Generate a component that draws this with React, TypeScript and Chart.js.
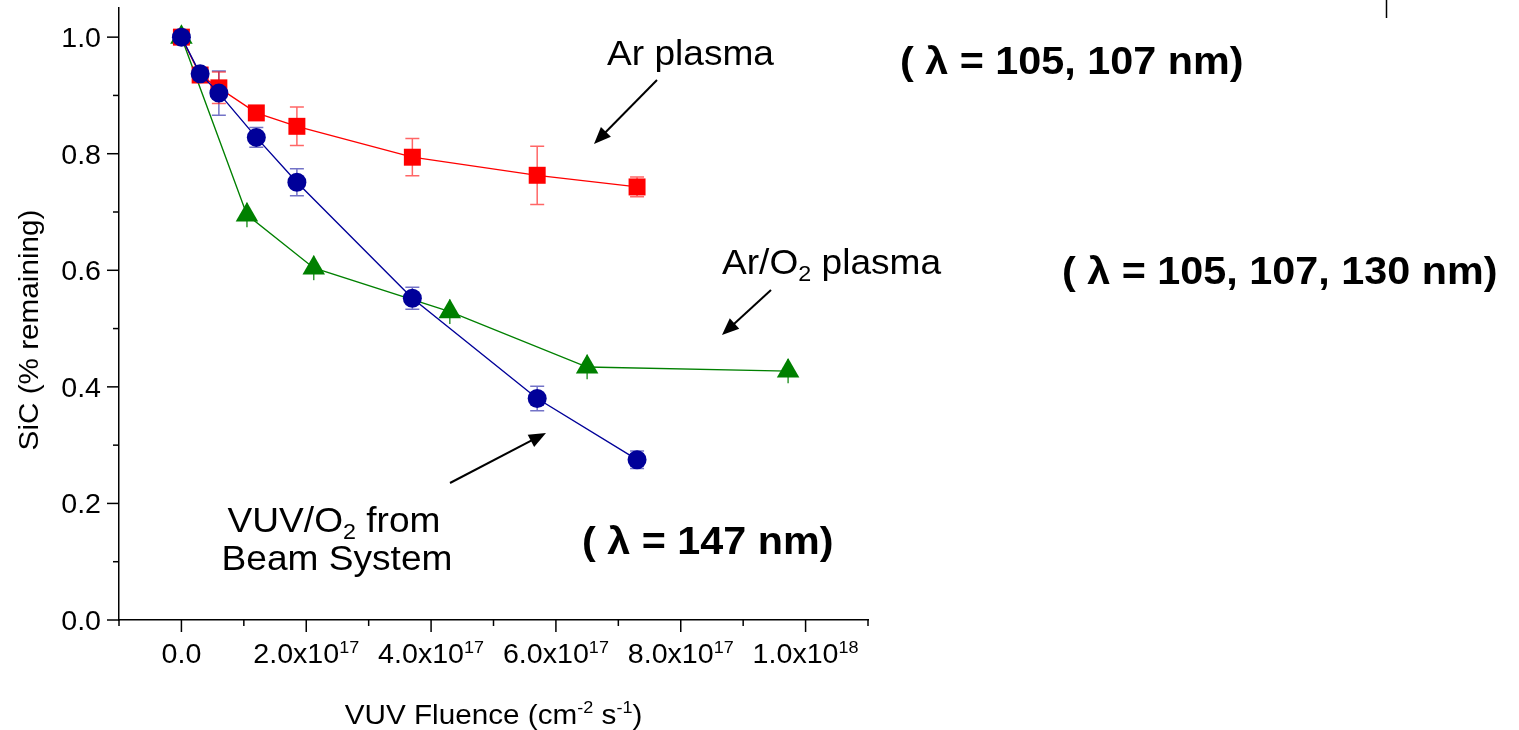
import React, { useEffect, useRef } from "react";
import { Chart, registerables } from "chart.js";

Chart.register(...registerables);

// ---- Data ----
const vuvX = [0, 0.3e17, 0.6e17, 1.2e17, 1.85e17, 3.7e17, 5.7e17, 7.3e17];
const vuvY = [1.0, 0.937, 0.904, 0.828, 0.751, 0.552, 0.38, 0.275];
const vuvErr = [0.005, 0.008, 0.038, 0.017, 0.023, 0.019, 0.021, 0.015];

const arX = [0, 0.3e17, 0.6e17, 1.2e17, 1.85e17, 3.7e17, 5.7e17, 7.3e17];
const arY = [1.0, 0.935, 0.913, 0.87, 0.847, 0.794, 0.763, 0.743];
const arErr = [0.005, 0.01, 0.027, 0.006, 0.033, 0.032, 0.05, 0.017];

const o2X = [0, 1.05e17, 2.12e17, 4.3e17, 6.5e17, 9.72e17];
const o2Y = [1.0, 0.695, 0.604, 0.529, 0.434, 0.427];
const o2Err = [0.01, 0.021, 0.021, 0.021, 0.021, 0.021];

const xTickValues = [0, 2e17, 4e17, 6e17, 8e17, 1e18];
const xTickMantissa = ["0.0", "2.0x10", "4.0x10", "6.0x10", "8.0x10", "1.0x10"];
const xTickExp = ["", "17", "17", "17", "17", "18"];
const yTickValues = [0, 0.2, 0.4, 0.6, 0.8, 1.0];
const yTickLabels = ["0.0", "0.2", "0.4", "0.6", "0.8", "1.0"];

const FONT = '"Liberation Sans", Arial, Helvetica, sans-serif';
const SX = 1.06; // horizontal text stretch

type Part = { t: string; size: number; bold?: boolean; dy?: number };

function fnt(size: number, bold?: boolean) {
  return `${bold ? "bold " : ""}${size}px ${FONT}`;
}

function partsWidth(ctx: CanvasRenderingContext2D, parts: Part[]) {
  let w = 0;
  for (const p of parts) {
    ctx.font = fnt(p.size, p.bold);
    w += ctx.measureText(p.t).width;
  }
  return w * SX;
}

function drawParts(
  ctx: CanvasRenderingContext2D,
  parts: Part[],
  x: number,
  y: number,
  align: "left" | "center" | "right",
  rotate = 0
) {
  const w = partsWidth(ctx, parts);
  ctx.save();
  ctx.translate(x, y);
  if (rotate) ctx.rotate(rotate);
  const start = align === "left" ? 0 : align === "center" ? -w / 2 : -w;
  ctx.translate(start, 0);
  ctx.scale(SX, 1);
  ctx.fillStyle = "#000";
  ctx.textAlign = "left";
  ctx.textBaseline = "alphabetic";
  let cx = 0;
  for (const p of parts) {
    ctx.font = fnt(p.size, p.bold);
    ctx.fillText(p.t, cx, p.dy || 0);
    cx += ctx.measureText(p.t).width;
  }
  ctx.restore();
}

function arrow(ctx: CanvasRenderingContext2D, x1: number, y1: number, x2: number, y2: number) {
  const ang = Math.atan2(y2 - y1, x2 - x1);
  const hl = 17;
  const hw = 7;
  const bx = x2 - hl * Math.cos(ang);
  const by = y2 - hl * Math.sin(ang);
  ctx.save();
  ctx.strokeStyle = "#000";
  ctx.fillStyle = "#000";
  ctx.lineWidth = 2;
  ctx.beginPath();
  ctx.moveTo(x1, y1);
  ctx.lineTo(bx + 3 * Math.cos(ang), by + 3 * Math.sin(ang));
  ctx.stroke();
  ctx.beginPath();
  ctx.moveTo(x2, y2);
  ctx.lineTo(bx + hw * Math.sin(ang), by - hw * Math.cos(ang));
  ctx.lineTo(bx - hw * Math.sin(ang), by + hw * Math.cos(ang));
  ctx.closePath();
  ctx.fill();
  ctx.restore();
}

const errorBarPlugin = {
  id: "errorBars",
  beforeDatasetsDraw(chart: any) {
    const ctx = chart.ctx as CanvasRenderingContext2D;
    const yScale = chart.scales.y;
    chart.data.datasets.forEach((ds: any, i: number) => {
      const meta = chart.getDatasetMeta(i);
      if (!ds.errors) return;
      ctx.save();
      ctx.strokeStyle = ds.errColor;
      ctx.lineWidth = 1.5;
      meta.data.forEach((el: any, j: number) => {
        const v = ds.data[j].y;
        const e = ds.errors[j];
        const x = el.x;
        const yt = yScale.getPixelForValue(v + e);
        const yb = yScale.getPixelForValue(v - e);
        ctx.beginPath();
        ctx.moveTo(x, yt);
        ctx.lineTo(x, yb);
        if (ds.errCap > 0) {
          ctx.moveTo(x - ds.errCap, yt);
          ctx.lineTo(x + ds.errCap, yt);
          ctx.moveTo(x - ds.errCap, yb);
          ctx.lineTo(x + ds.errCap, yb);
        }
        ctx.stroke();
      });
      ctx.restore();
    });
  },
};

const decorPlugin = {
  id: "decor",
  afterDraw(chart: any) {
    const ctx = chart.ctx as CanvasRenderingContext2D;
    const xs = chart.scales.x;
    const ys = chart.scales.y;
    const area = chart.chartArea;
    ctx.save();
    ctx.strokeStyle = "#000";
    ctx.lineWidth = 1.5;
    // x ticks every 1e17
    for (let k = -1; k <= 11; k++) {
      const px = xs.getPixelForValue(k * 1e17);
      const len = k % 2 === 0 ? 12 : 6;
      ctx.beginPath();
      ctx.moveTo(px, area.bottom);
      ctx.lineTo(px, area.bottom + len);
      ctx.stroke();
    }
    // y ticks every 0.1
    for (let k = 0; k <= 10; k++) {
      const py = ys.getPixelForValue(k / 10);
      const len = k % 2 === 0 ? 12 : 6;
      ctx.beginPath();
      ctx.moveTo(area.left, py);
      ctx.lineTo(area.left - len, py);
      ctx.stroke();
    }
    // stray mark at top right
    ctx.beginPath();
    ctx.moveTo(1386.5, 0);
    ctx.lineTo(1386.5, 18);
    ctx.stroke();
    ctx.restore();

    // tick labels
    yTickValues.forEach((v, i) => {
      const py = ys.getPixelForValue(v);
      drawParts(ctx, [{ t: yTickLabels[i], size: 27 }], 101, py + 10, "right");
    });
    xTickValues.forEach((v, i) => {
      const px = xs.getPixelForValue(v);
      const parts: Part[] = [{ t: xTickMantissa[i], size: 27 }];
      if (xTickExp[i]) parts.push({ t: xTickExp[i], size: 17, dy: -10 });
      drawParts(ctx, parts, px, 663, "center");
    });

    // axis titles
    const cxArea = (area.left + area.right) / 2;
    drawParts(
      ctx,
      [
        { t: "VUV Fluence (cm", size: 28 },
        { t: "-2", size: 17, dy: -11 },
        { t: " s", size: 28 },
        { t: "-1", size: 17, dy: -11 },
        { t: ")", size: 28 },
      ],
      cxArea,
      724,
      "center"
    );
    drawParts(ctx, [{ t: "SiC (% remaining)", size: 28 }], 38, 330, "center", -Math.PI / 2);

    // annotations
    drawParts(ctx, [{ t: "Ar plasma", size: 35 }], 607, 65, "left");
    drawParts(ctx, [{ t: "( λ = 105, 107 nm)", size: 39, bold: true }], 900, 74, "left");
    drawParts(
      ctx,
      [
        { t: "Ar/O", size: 35 },
        { t: "2", size: 22, dy: 7 },
        { t: " plasma", size: 35 },
      ],
      722,
      274,
      "left"
    );
    drawParts(ctx, [{ t: "( λ = 105, 107, 130 nm)", size: 39, bold: true }], 1062, 284, "left");
    drawParts(
      ctx,
      [
        { t: "VUV/O", size: 35 },
        { t: "2", size: 22, dy: 7 },
        { t: " from", size: 35 },
      ],
      334,
      532,
      "center"
    );
    drawParts(ctx, [{ t: "Beam System", size: 35 }], 337, 570, "center");
    drawParts(ctx, [{ t: "( λ = 147 nm)", size: 39, bold: true }], 582, 554, "left");

    arrow(ctx, 657, 80, 594, 144);
    arrow(ctx, 771, 290, 722, 335);
    arrow(ctx, 450, 483, 546, 433);
  },
};

export default function App() {
  const ref = useRef<HTMLCanvasElement | null>(null);
  useEffect(() => {
    document.body.style.margin = "0";
    const canvas = ref.current;
    if (!canvas) return;
    const chart = new Chart(canvas, {
      type: "scatter",
      data: {
        datasets: [
          {
            label: "VUV/O2 from Beam System",
            data: vuvX.map((x, i) => ({ x, y: vuvY[i] })),
            showLine: true,
            borderColor: "#000099",
            backgroundColor: "#000099",
            borderWidth: 1.4,
            pointStyle: "circle",
            pointRadius: 9.5,
            pointBorderWidth: 0,
            errors: vuvErr,
            errColor: "rgba(0,0,153,0.55)",
            errCap: 7,
          } as any,
          {
            label: "Ar plasma",
            data: arX.map((x, i) => ({ x, y: arY[i] })),
            showLine: true,
            borderColor: "#ff0000",
            backgroundColor: "#ff0000",
            borderWidth: 1.3,
            pointStyle: "rect",
            pointRadius: 12,
            pointBorderWidth: 0,
            errors: arErr,
            errColor: "rgba(255,0,0,0.6)",
            errCap: 7,
          } as any,
          {
            label: "Ar/O2 plasma",
            data: o2X.map((x, i) => ({ x, y: o2Y[i] })),
            showLine: true,
            borderColor: "#008000",
            backgroundColor: "#008000",
            borderWidth: 1.4,
            pointStyle: "triangle",
            pointRadius: 13,
            pointBorderWidth: 0,
            errors: o2Err,
            errColor: "rgba(0,128,0,0.8)",
            errCap: 0,
          } as any,
        ],
      },
      options: {
        responsive: false,
        animation: false,
        layout: { autoPadding: false, padding: { left: 0, top: 8, right: 651, bottom: 0 } },
        plugins: { legend: { display: false }, tooltip: { enabled: false } },
        scales: {
          x: {
            type: "linear",
            min: -1e17,
            max: 1.1e18,
            ticks: { display: false },
            grid: { display: false, drawTicks: false },
            border: { display: true, color: "#000", width: 1.5 },
            afterFit: (s: any) => {
              s.height = 110;
            },
          },
          y: {
            type: "linear",
            min: 0,
            max: 1.05,
            ticks: { display: false },
            grid: { display: false, drawTicks: false },
            border: { display: true, color: "#000", width: 1.5 },
            afterFit: (s: any) => {
              s.width = 119;
            },
          },
        },
      } as any,
      plugins: [errorBarPlugin, decorPlugin],
    });
    return () => chart.destroy();
  }, []);
  return (
    <div style={{ width: 1519, height: 730, background: "#fff" }}>
      <canvas ref={ref} width={1519} height={730} style={{ display: "block" }} />
    </div>
  );
}
